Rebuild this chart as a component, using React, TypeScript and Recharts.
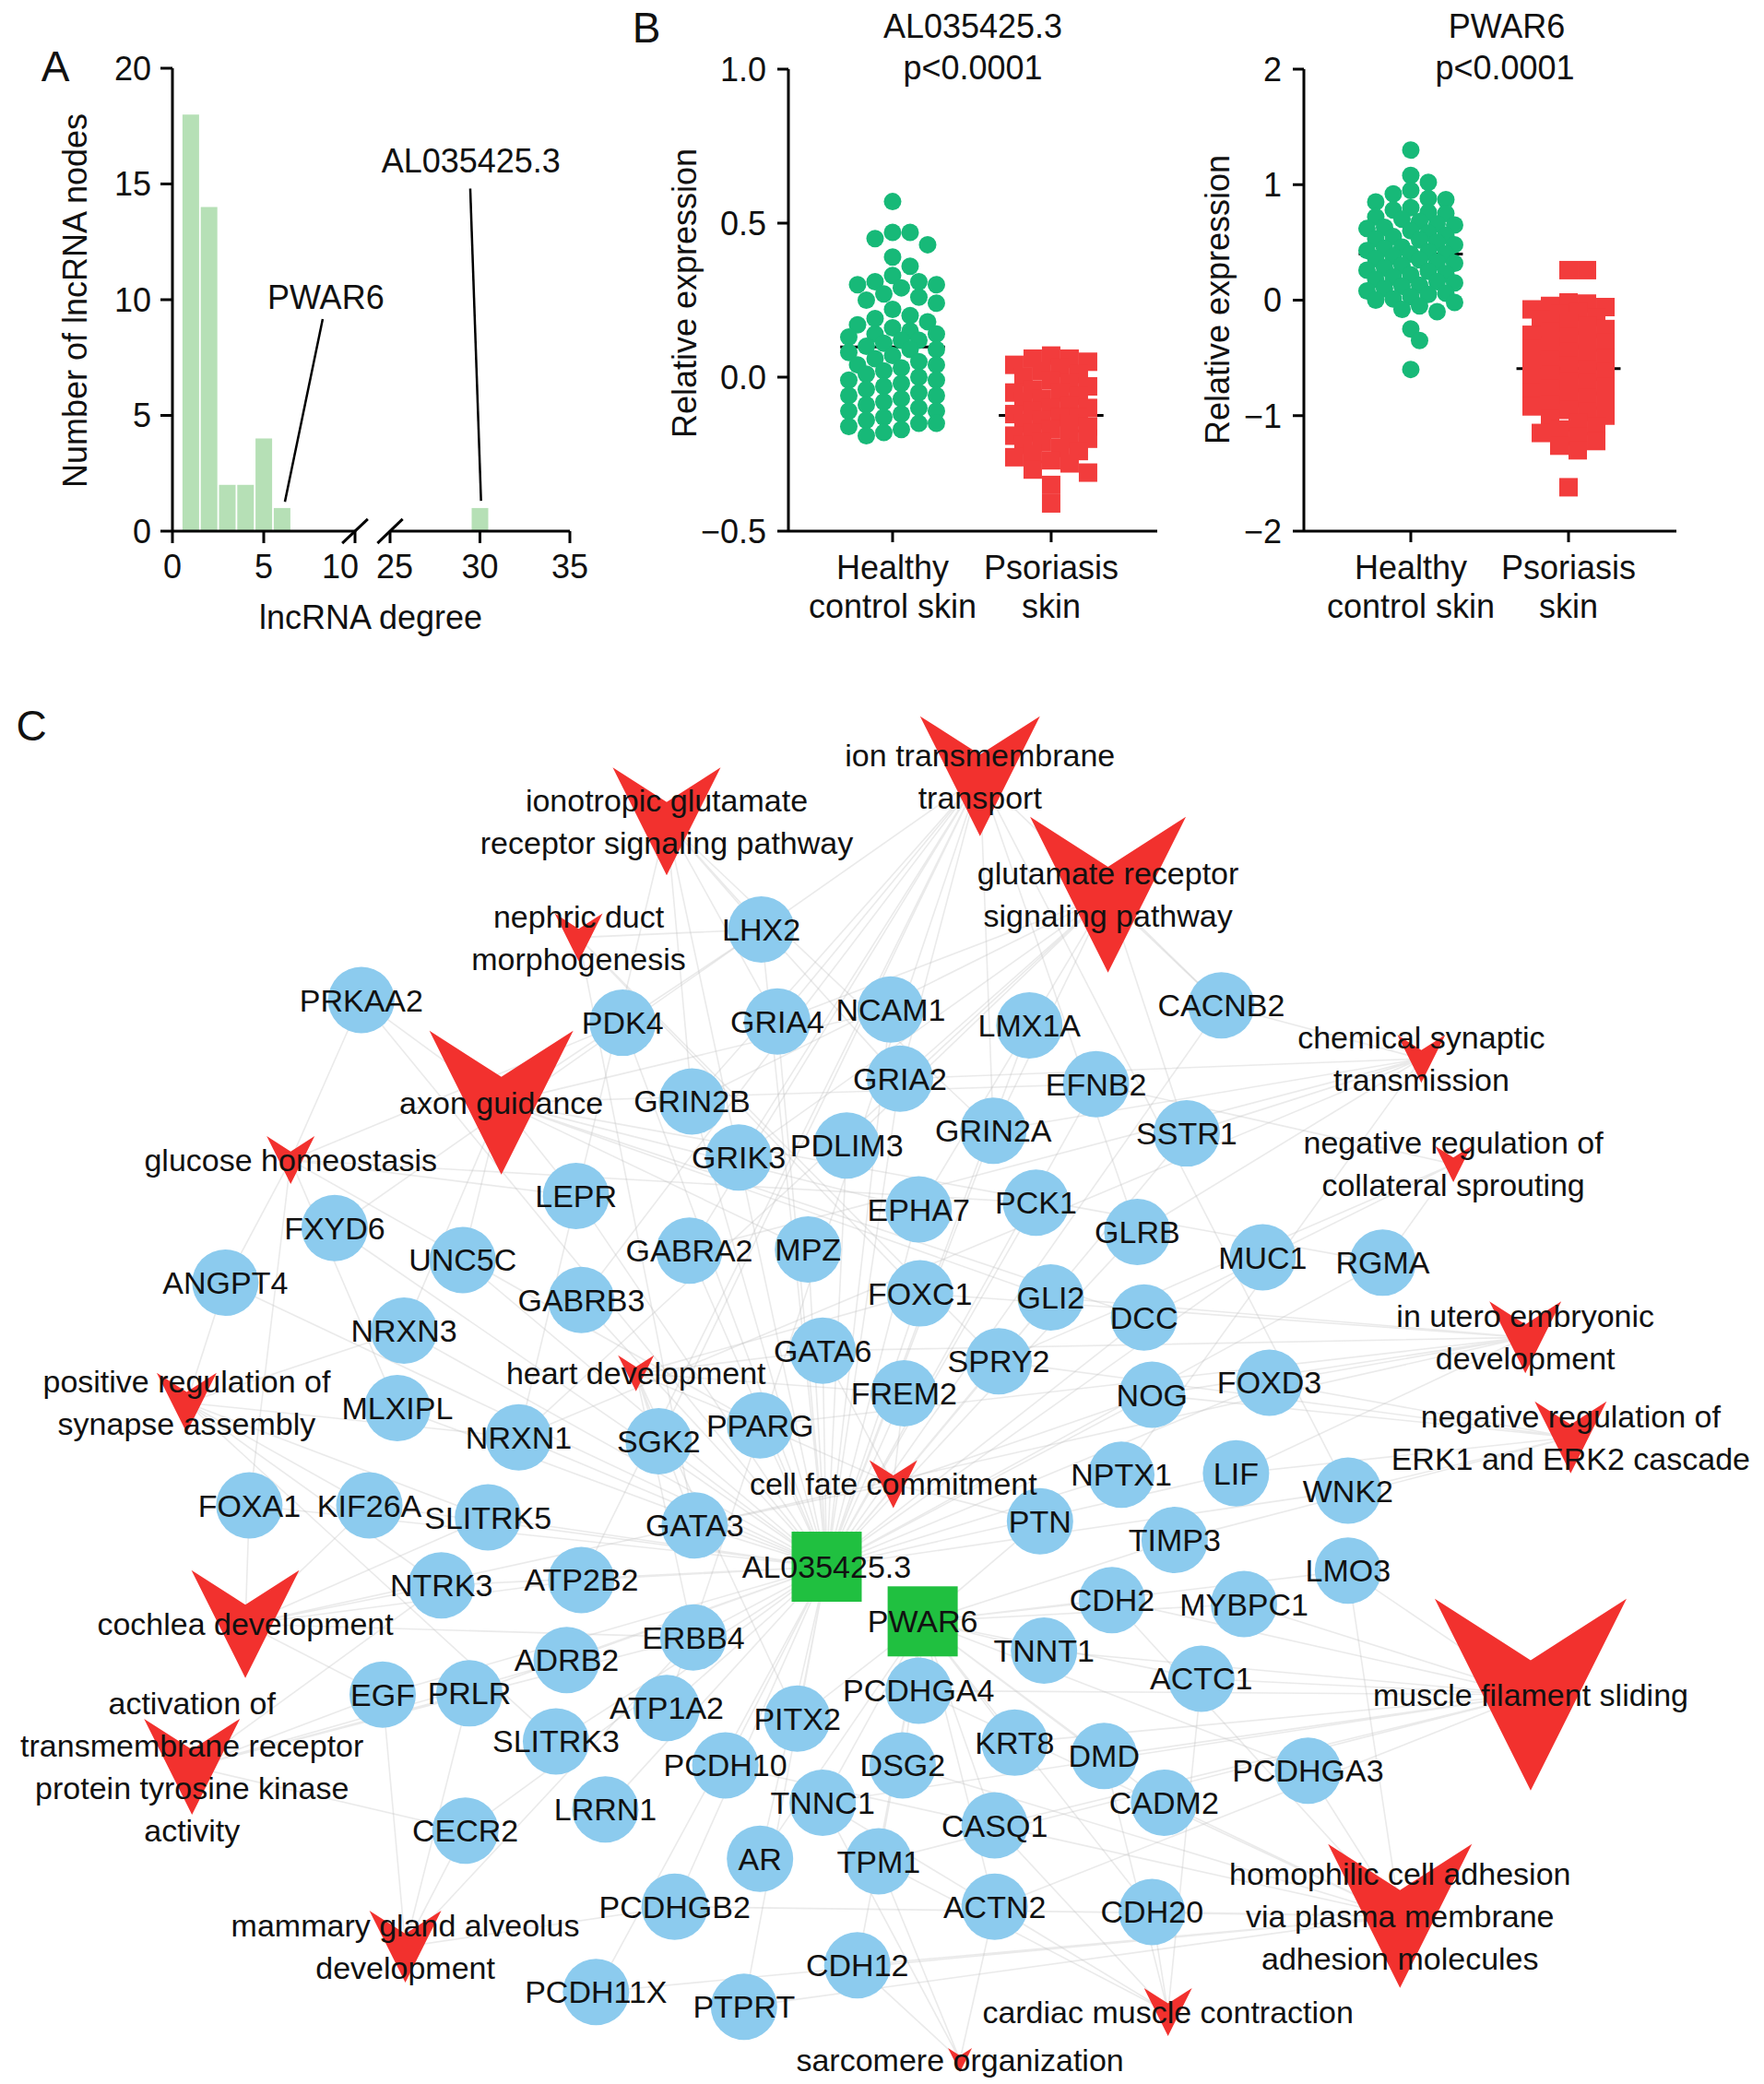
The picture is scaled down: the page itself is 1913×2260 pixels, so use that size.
import React from "react";
import {
  BarChart,
  Bar,
  XAxis,
  YAxis,
  ReferenceLine,
  ReferenceDot,
  ScatterChart,
  Scatter,
} from "recharts";

const FONT = '"Liberation Sans", Arial, Helvetica, sans-serif';
const INK = "#111111";
const BAR_GREEN = "#b6e0b6";
const DOT_GREEN = "#17b978";
const SQ_RED = "#f23c3c";
const GENE_BLUE = "#8ccbee";
const LNC_GREEN = "#20c040";
const GO_RED = "#f2312e";

// ---------- A: lncRNA degree distribution ----------
const degreeLow = [
  { degree: 1, nodes: 18 },
  { degree: 2, nodes: 14 },
  { degree: 3, nodes: 2 },
  { degree: 4, nodes: 2 },
  { degree: 5, nodes: 4 },
  { degree: 6, nodes: 1 },
];
const degreeHigh = [{ degree: 30, nodes: 1 }];
const lowDegreeTicks = [0, 5, 10];
const highDegreeTicks = [25, 30, 35];
const nodeCountTicks = [0, 5, 10, 15, 20];

// ---------- B: relative expression ----------
const groupLabels = [
  ["Healthy", "control skin"],
  ["Psoriasis", "skin"],
];
const alTicks = [-0.5, 0, 0.5, 1.0];
const pwarTicks = [-2, -1, 0, 1, 2];

const alHealthy = [
  0.57, 0.47, 0.47, 0.45, 0.43, 0.39, 0.36, 0.33, 0.31, 0.31, 0.3, 0.3, 0.29,
  0.27, 0.26, 0.25, 0.24, 0.22, 0.2, 0.19, 0.18, 0.17, 0.16, 0.15, 0.14, 0.14,
  0.13, 0.12, 0.12, 0.11, 0.1, 0.09, 0.09, 0.08, 0.07, 0.06, 0.05, 0.04, 0.04,
  0.03, 0.02, 0.01, 0.0, -0.01, -0.01, -0.02, -0.03, -0.04, -0.05, -0.06,
  -0.06, -0.07, -0.08, -0.09, -0.1, -0.11, -0.11, -0.12, -0.13, -0.14, -0.15,
  -0.15, -0.16, -0.17, -0.18, -0.19,
];
const alPsoriasis = [
  0.07, 0.06, 0.06, 0.05, 0.04, 0.03, 0.02, 0.01, 0.0, -0.01, -0.02, -0.03,
  -0.04, -0.05, -0.05, -0.06, -0.07, -0.08, -0.09, -0.1, -0.1, -0.11, -0.12,
  -0.13, -0.13, -0.14, -0.15, -0.15, -0.16, -0.17, -0.18, -0.19, -0.2, -0.2,
  -0.21, -0.22, -0.23, -0.24, -0.25, -0.26, -0.27, -0.28, -0.3, -0.31, -0.35,
  -0.41,
];
const pwarHealthy = [
  1.3, 1.08, 1.02, 0.95, 0.92, 0.88, 0.87, 0.85, 0.8, 0.78, 0.76, 0.75, 0.72,
  0.7, 0.68, 0.66, 0.65, 0.63, 0.62, 0.6, 0.58, 0.56, 0.55, 0.53, 0.52, 0.5,
  0.48, 0.46, 0.45, 0.43, 0.42, 0.4, 0.4, 0.38, 0.36, 0.35, 0.33, 0.32, 0.3,
  0.28, 0.26, 0.25, 0.23, 0.22, 0.2, 0.18, 0.16, 0.15, 0.13, 0.12, 0.1, 0.08,
  0.06, 0.05, 0.03, 0.01, 0.0, -0.02, -0.05, -0.08, -0.1, -0.25, -0.35, -0.6,
];
const pwarPsoriasis = [
  0.26, 0.26, -0.02, -0.03, -0.05, -0.06, -0.08, -0.1, -0.12, -0.15, -0.17,
  -0.2, -0.22, -0.25, -0.27, -0.3, -0.32, -0.35, -0.37, -0.4, -0.42, -0.45,
  -0.47, -0.5, -0.52, -0.55, -0.57, -0.6, -0.62, -0.65, -0.67, -0.7, -0.72,
  -0.75, -0.77, -0.8, -0.82, -0.85, -0.87, -0.9, -0.92, -0.95, -0.97, -1.0,
  -1.03, -1.06, -1.09, -1.12, -1.15, -1.18, -1.22, -1.26, -1.3, -1.62,
];

// ---------- C: network (layout coordinates) ----------
const genes = [
  { name: "LHX2", x: 571, y: 697 },
  { name: "PRKAA2", x: 271, y: 750 },
  { name: "PDK4", x: 467, y: 767 },
  { name: "GRIA4", x: 583, y: 766 },
  { name: "NCAM1", x: 668, y: 757 },
  { name: "LMX1A", x: 772, y: 769 },
  { name: "CACNB2", x: 916, y: 754 },
  { name: "GRIA2", x: 675, y: 809 },
  { name: "EFNB2", x: 822, y: 813 },
  { name: "GRIN2B", x: 519, y: 826 },
  { name: "GRIN2A", x: 745, y: 848 },
  { name: "SSTR1", x: 890, y: 850 },
  { name: "GRIK3", x: 554, y: 868 },
  { name: "PDLIM3", x: 635, y: 859 },
  { name: "LEPR", x: 432, y: 897 },
  { name: "EPHA7", x: 689, y: 907 },
  { name: "PCK1", x: 777, y: 902 },
  { name: "GLRB", x: 853, y: 924 },
  { name: "FXYD6", x: 251, y: 921 },
  { name: "UNC5C", x: 347, y: 945 },
  { name: "GABRA2", x: 517, y: 938 },
  { name: "MPZ", x: 606, y: 937 },
  { name: "MUC1", x: 947, y: 943 },
  { name: "RGMA", x: 1037, y: 947 },
  { name: "ANGPT4", x: 169, y: 962 },
  { name: "FOXC1", x: 690, y: 970 },
  { name: "GLI2", x: 788, y: 973 },
  { name: "DCC", x: 858, y: 988 },
  { name: "GABRB3", x: 436, y: 975 },
  { name: "NRXN3", x: 303, y: 998 },
  { name: "GATA6", x: 617, y: 1013 },
  { name: "SPRY2", x: 749, y: 1021 },
  { name: "FREM2", x: 678, y: 1045 },
  { name: "NOG", x: 864, y: 1046 },
  { name: "FOXD3", x: 952, y: 1037 },
  { name: "MLXIPL", x: 298, y: 1056 },
  { name: "NRXN1", x: 389, y: 1078 },
  { name: "SGK2", x: 494, y: 1081 },
  { name: "PPARG", x: 570, y: 1069 },
  { name: "NPTX1", x: 841, y: 1106 },
  { name: "LIF", x: 927, y: 1105 },
  { name: "WNK2", x: 1011, y: 1118 },
  { name: "FOXA1", x: 187, y: 1129 },
  { name: "KIF26A", x: 277, y: 1129 },
  { name: "SLITRK5", x: 366, y: 1138 },
  { name: "GATA3", x: 521, y: 1144 },
  { name: "PTN", x: 780, y: 1141 },
  { name: "TIMP3", x: 881, y: 1155 },
  { name: "LMO3", x: 1011, y: 1178 },
  { name: "NTRK3", x: 331, y: 1189 },
  { name: "ATP2B2", x: 436, y: 1185 },
  { name: "CDH2", x: 834, y: 1200 },
  { name: "MYBPC1", x: 933, y: 1203 },
  { name: "ERBB4", x: 520, y: 1228 },
  { name: "ADRB2", x: 425, y: 1245 },
  { name: "TNNT1", x: 783, y: 1238 },
  { name: "ACTC1", x: 901, y: 1259 },
  { name: "EGF", x: 287, y: 1271 },
  { name: "PRLR", x: 352, y: 1270 },
  { name: "PCDHGA4", x: 689, y: 1268 },
  { name: "ATP1A2", x: 500, y: 1281 },
  { name: "PITX2", x: 598, y: 1289 },
  { name: "SLITRK3", x: 417, y: 1306 },
  { name: "KRT8", x: 761, y: 1307 },
  { name: "DMD", x: 828, y: 1317 },
  { name: "PCDHGA3", x: 981, y: 1328 },
  { name: "DSG2", x: 677, y: 1324 },
  { name: "PCDH10", x: 544, y: 1324 },
  { name: "TNNC1", x: 617, y: 1352 },
  { name: "CADM2", x: 873, y: 1352 },
  { name: "LRRN1", x: 454, y: 1357 },
  { name: "CECR2", x: 349, y: 1373 },
  { name: "CASQ1", x: 746, y: 1369 },
  { name: "AR", x: 570, y: 1394 },
  { name: "TPM1", x: 659, y: 1396 },
  { name: "ACTN2", x: 746, y: 1430 },
  { name: "CDH20", x: 864, y: 1434 },
  { name: "PCDHGB2", x: 506, y: 1430 },
  { name: "CDH12", x: 643, y: 1474 },
  { name: "PCDH11X", x: 447, y: 1494 },
  { name: "PTPRT", x: 558, y: 1505 },
];

const lncRNAs = [
  { name: "AL035425.3", x: 620, y: 1175 },
  { name: "PWAR6", x: 692, y: 1216 },
];

// count = number of genes annotated to the term (drives the marker size)
const goTerms = [
  { name: "ion transmembrane transport", lines: ["ion transmembrane", "transport"], x: 735, y: 582, count: 10 },
  { name: "ionotropic glutamate receptor signaling pathway", lines: ["ionotropic glutamate", "receptor signaling pathway"], x: 500, y: 616, count: 9 },
  { name: "glutamate receptor signaling pathway", lines: ["glutamate receptor", "signaling pathway"], x: 831, y: 671, count: 13 },
  { name: "nephric duct morphogenesis", lines: ["nephric duct", "morphogenesis"], x: 434, y: 703, count: 4 },
  { name: "axon guidance", lines: ["axon guidance"], x: 376, y: 827, count: 12 },
  { name: "glucose homeostasis", lines: ["glucose homeostasis"], x: 218, y: 870, count: 4 },
  { name: "chemical synaptic transmission", lines: ["chemical synaptic", "transmission"], x: 1066, y: 794, count: 4 },
  { name: "negative regulation of collateral sprouting", lines: ["negative regulation of", "collateral sprouting"], x: 1090, y: 873, count: 3 },
  { name: "in utero embryonic development", lines: ["in utero embryonic", "development"], x: 1144, y: 1003, count: 6 },
  { name: "negative regulation of ERK1 and ERK2 cascade", lines: ["negative regulation of", "ERK1 and ERK2 cascade"], x: 1178, y: 1078, count: 6 },
  { name: "positive regulation of synapse assembly", lines: ["positive regulation of", "synapse assembly"], x: 140, y: 1052, count: 5 },
  { name: "heart development", lines: ["heart development"], x: 477, y: 1030, count: 3 },
  { name: "cell fate commitment", lines: ["cell fate commitment"], x: 670, y: 1113, count: 4 },
  { name: "cochlea development", lines: ["cochlea development"], x: 184, y: 1218, count: 9 },
  { name: "activation of transmembrane receptor protein tyrosine kinase activity", lines: ["activation of", "transmembrane receptor", "protein tyrosine kinase", "activity"], x: 144, y: 1325, count: 8 },
  { name: "mammary gland alveolus development", lines: ["mammary gland alveolus", "development"], x: 304, y: 1460, count: 6 },
  { name: "homophilic cell adhesion via plasma membrane adhesion molecules", lines: ["homophilic cell adhesion", "via plasma membrane", "adhesion molecules"], x: 1050, y: 1437, count: 12 },
  { name: "muscle filament sliding", lines: ["muscle filament sliding"], x: 1148, y: 1271, count: 16 },
  { name: "cardiac muscle contraction", lines: ["cardiac muscle contraction"], x: 876, y: 1509, count: 4 },
  { name: "sarcomere organization", lines: ["sarcomere organization"], x: 720, y: 1545, count: 2 },
];

const lncLinks: [string, string[]][] = [
  ["AL035425.3", ["LHX2", "PDK4", "GRIA4", "NCAM1", "LMX1A", "GRIA2", "EFNB2", "GRIN2B", "GRIN2A", "GRIK3", "PDLIM3", "LEPR", "EPHA7", "PCK1", "GLRB", "FXYD6", "UNC5C", "GABRA2", "MPZ", "ANGPT4", "FOXC1", "GLI2", "DCC", "GABRB3", "NRXN3", "GATA6", "SPRY2", "FREM2", "NOG", "MLXIPL", "NRXN1", "SGK2", "PPARG", "NPTX1", "FOXA1", "KIF26A", "SLITRK5", "GATA3", "NTRK3", "ATP2B2", "ERBB4", "ADRB2", "EGF", "PRLR", "ATP1A2", "SLITRK3", "LRRN1", "CECR2", "PCDH10", "PCDHGB2", "PCDH11X", "PTPRT", "AR", "PITX2", "PRKAA2", "CACNB2", "SSTR1", "MUC1", "RGMA", "FOXD3", "LIF", "WNK2"]],
  ["PWAR6", ["PTN", "TIMP3", "LMO3", "CDH2", "MYBPC1", "TNNT1", "ACTC1", "PCDHGA4", "KRT8", "DMD", "PCDHGA3", "DSG2", "TNNC1", "CADM2", "CASQ1", "TPM1", "ACTN2", "CDH20", "CDH12", "AR", "PITX2"]],
];

const goLinks: [string, string[]][] = [
  ["ion transmembrane transport", ["GRIA4", "GRIA2", "GRIN2A", "GRIN2B", "GRIK3", "GABRA2", "GABRB3", "GLRB", "CACNB2", "ATP1A2", "ATP2B2", "FXYD6", "SGK2", "WNK2"]],
  ["ionotropic glutamate receptor signaling pathway", ["GRIA4", "GRIA2", "GRIN2A", "GRIN2B", "GRIK3", "NRXN1", "LHX2"]],
  ["glutamate receptor signaling pathway", ["GRIA4", "GRIA2", "GRIN2A", "GRIN2B", "GRIK3", "NRXN1", "CACNB2", "SSTR1", "EPHA7", "PDLIM3"]],
  ["nephric duct morphogenesis", ["GATA3", "SPRY2", "FOXC1", "LHX2"]],
  ["axon guidance", ["UNC5C", "DCC", "RGMA", "EPHA7", "EFNB2", "NCAM1", "LHX2", "GLI2", "PRKAA2", "NRXN3", "LEPR", "MPZ"]],
  ["glucose homeostasis", ["PRKAA2", "PDK4", "PCK1", "LEPR", "PPARG", "FOXA1", "MLXIPL", "ANGPT4"]],
  ["chemical synaptic transmission", ["CACNB2", "GRIA2", "GRIN2A", "SSTR1", "NRXN1", "GABRA2", "GLRB", "NPTX1"]],
  ["negative regulation of collateral sprouting", ["RGMA", "SPRY2", "EFNB2", "DCC"]],
  ["in utero embryonic development", ["GATA6", "GATA3", "FOXC1", "NOG", "FOXD3", "LIF", "GLI2", "PPARG"]],
  ["negative regulation of ERK1 and ERK2 cascade", ["SPRY2", "NOG", "FOXD3", "LIF", "TIMP3", "WNK2"]],
  ["positive regulation of synapse assembly", ["NRXN1", "NRXN3", "SLITRK5", "SLITRK3", "NTRK3", "KIF26A", "ANGPT4"]],
  ["heart development", ["GATA6", "GATA3", "PITX2", "FOXC1", "FREM2", "SGK2", "ERBB4", "PPARG"]],
  ["cell fate commitment", ["GATA6", "PPARG", "GATA3", "PTN", "FREM2", "NOG"]],
  ["cochlea development", ["NTRK3", "GATA3", "ERBB4", "ATP2B2", "KIF26A", "FOXA1", "SLITRK5", "EGF"]],
  ["activation of transmembrane receptor protein tyrosine kinase activity", ["EGF", "PRLR", "ERBB4", "NTRK3", "ADRB2", "CECR2"]],
  ["mammary gland alveolus development", ["PRLR", "EGF", "ERBB4", "CECR2", "PCDHGB2"]],
  ["homophilic cell adhesion via plasma membrane adhesion molecules", ["PCDHGA3", "PCDHGA4", "PCDHGB2", "PCDH10", "PCDH11X", "CDH2", "CDH12", "CDH20", "CADM2", "DSG2", "PTPRT", "LMO3"]],
  ["muscle filament sliding", ["ACTC1", "ACTN2", "TNNT1", "TNNC1", "TPM1", "MYBPC1", "DMD", "KRT8", "CASQ1", "LMO3", "CDH2", "PCDHGA4"]],
  ["cardiac muscle contraction", ["ACTC1", "ACTN2", "TNNC1", "CASQ1", "CDH20", "DMD", "TPM1"]],
  ["sarcomere organization", ["ACTN2", "TPM1", "CDH12", "TNNC1"]],
];

// ---------- helpers ----------
// simple beeswarm: spreads equal-ish values sideways, in pixel space
function swarm(
  values: number[],
  center: number,
  pxPerX: number,
  pxPerY: number,
  diam: number,
  fit: number,
  maxHalf: number
) {
  const placed: { dx: number; py: number }[] = [];
  const step = diam / 2;
  const offsets: number[] = [0];
  for (let k = 1; k * step <= maxHalf; k++) offsets.push(k * step, -k * step);
  return [...values]
    .sort((a, b) => b - a)
    .map((v) => {
      const py = v * pxPerY;
      let best = 0;
      let bestGap = -1;
      for (const dx of offsets) {
        let gap = Infinity;
        for (const p of placed) gap = Math.min(gap, Math.hypot(p.dx - dx, p.py - py));
        if (gap >= diam * fit) {
          best = dx;
          break;
        }
        if (gap > bestGap) {
          bestGap = gap;
          best = dx;
        }
      }
      placed.push({ dx: best, py });
      return { x: center + best / pxPerX, y: v };
    });
}

const mean = (a: number[]) => a.reduce((s, v) => s + v, 0) / a.length;

const alHealthyPts = swarm(alHealthy, 1, 172, 334, 19, 0.95, 48);
const alPsoriasisPts = swarm(alPsoriasis, 2, 172, 334, 20, 0.8, 46);
const pwarHealthyPts = swarm(pwarHealthy, 1, 171, 125.25, 19, 0.7, 48);
const pwarPsoriasisPts = swarm(pwarPsoriasis, 2, 171, 125.25, 20, 0.72, 48);

const allNodes = [...genes, ...lncRNAs, ...goTerms];
const nodeMap: Record<string, { x: number; y: number }> = {};
allNodes.forEach((n) => (nodeMap[n.name] = n));

const edgeSets = [...lncLinks, ...goLinks].map(([hub, targets]) => {
  const h = nodeMap[hub];
  const pts: { x: number; y: number }[] = [];
  targets.forEach((t) => {
    pts.push({ x: h.x, y: h.y });
    pts.push({ x: nodeMap[t].x, y: nodeMap[t].y });
  });
  return { hub, pts };
});

const labelNodes = [
  ...goTerms,
  ...genes.map((g) => ({ ...g, lines: [g.name] })),
  ...lncRNAs.map((g) => ({ ...g, lines: [g.name] })),
];

// ---------- shapes ----------
const V_UNIT = 13;
const Empty = () => <g />;
const VShape = (p: any) => {
  const w = p.payload.count * V_UNIT;
  const h = w;
  const top = p.cy - h / 2;
  const pts = `${p.cx - w / 2},${top} ${p.cx},${top + h * 0.32} ${p.cx + w / 2},${top} ${p.cx},${top + h}`;
  return <polygon points={pts} fill={GO_RED} />;
};
const GeneShape = (p: any) => <circle cx={p.cx} cy={p.cy} r={36} fill={GENE_BLUE} />;
const LncShape = (p: any) => <rect x={p.cx - 38} y={p.cy - 38} width={76} height={76} fill={LNC_GREEN} />;
const LabelShape = (p: any) => {
  const lines: string[] = p.payload.lines;
  const n = lines.length;
  return (
    <text textAnchor="middle" fontSize={34} fontFamily={FONT} fill={INK}>
      {lines.map((l, i) => (
        <tspan key={i} x={p.cx} y={p.cy + (i - (n - 1) / 2) * 46 + 12}>
          {l}
        </tspan>
      ))}
    </text>
  );
};
const DotShape = (p: any) => <circle cx={p.cx} cy={p.cy} r={9.5} fill={DOT_GREEN} />;
const SquareShape = (p: any) => <rect x={p.cx - 10} y={p.cy - 10} width={20} height={20} fill={SQ_RED} />;

const axisStroke = { stroke: "#000", strokeWidth: 3 };
const tickFont = { fontSize: 36, fill: INK, fontFamily: FONT };

// tick labels next to the axis break sit a little away from the break marks
const breakTick = (shift: Record<number, number>) => (p: any) => (
  <text
    x={p.x + (shift[p.payload.value] || 0)}
    y={p.y}
    dy="0.71em"
    textAnchor="middle"
    fontSize={36}
    fontFamily={FONT}
    fill={INK}
  >
    {p.payload.value}
  </text>
);

const GroupTick = (p: any) => {
  const lines = groupLabels[p.payload.value - 1] || [];
  return (
    <text textAnchor="middle" fontSize={36} fontFamily={FONT} fill={INK}>
      {lines.map((l, i) => (
        <tspan key={i} x={p.x} y={p.y + 38 + i * 42}>
          {l}
        </tspan>
      ))}
    </text>
  );
};

const Txt = ({ x, y, size = 36, rotate = 0, children }: any) => (
  <div
    style={{
      position: "absolute",
      left: x,
      top: y,
      transform: `translate(-50%, -50%) rotate(${rotate}deg)`,
      fontSize: size,
      fontFamily: FONT,
      whiteSpace: "nowrap",
      lineHeight: 1,
      color: INK,
    }}
  >
    {children}
  </div>
);

const fmtOne = (v: number) => (v < 0 ? "\u2212" : "") + Math.abs(v).toFixed(1);
const fmtInt = (v: number) => (v < 0 ? "\u2212" : "") + Math.abs(v).toString();

function DotPlot({ healthy, psoriasis, domainY, ticks, fmt, domainX, margin, width, rawH, rawP }: any) {
  const mH = mean(rawH);
  const mP = mean(rawP);
  return (
    <ScatterChart width={width} height={700} margin={margin}>
      <XAxis
        type="number"
        dataKey="x"
        domain={domainX}
        ticks={[1, 2]}
        interval={0}
        allowDataOverflow
        axisLine={axisStroke}
        tickLine={axisStroke}
        tickSize={12}
        height={100}
        tick={<GroupTick />}
      />
      <YAxis
        type="number"
        dataKey="y"
        domain={domainY}
        ticks={ticks}
        interval={0}
        allowDataOverflow
        tickFormatter={fmt}
        axisLine={axisStroke}
        tickLine={axisStroke}
        tickSize={12}
        tickMargin={12}
        width={120}
        tick={tickFont}
      />
      <ReferenceLine segment={[{ x: 0.67, y: mH }, { x: 1.33, y: mH }]} stroke="#000" strokeWidth={3} />
      <ReferenceLine segment={[{ x: 1.67, y: mP }, { x: 2.33, y: mP }]} stroke="#000" strokeWidth={3} />
      <Scatter data={healthy} shape={DotShape} isAnimationActive={false} />
      <Scatter data={psoriasis} shape={SquareShape} isAnimationActive={false} />
    </ScatterChart>
  );
}

export default function App() {
  return (
    <div style={{ position: "relative", width: 1913, height: 2260, background: "#fff", overflow: "hidden" }}>
      <style>{"body{margin:0}"}</style>

      {/* A */}
      <Txt x={60} y={72} size={46}>A</Txt>
      <Txt x={82} y={326} rotate={-90}>Number of lncRNA nodes</Txt>
      <Txt x={402} y={670}>lncRNA degree</Txt>
      <div style={{ position: "absolute", left: 0, top: 0 }}>
        <BarChart width={420} height={700} data={degreeLow} margin={{ top: 74, right: 35, bottom: 64, left: 67 }}>
          <XAxis
            type="number"
            dataKey="degree"
            domain={[0, 10]}
            ticks={lowDegreeTicks}
            interval={0}
            allowDataOverflow
            axisLine={axisStroke}
            tickLine={axisStroke}
            tickSize={13}
            tickMargin={12}
            height={60}
            tick={breakTick({ 10: -16 })}
          />
          <YAxis
            type="number"
            domain={[0, 20]}
            ticks={nodeCountTicks}
            interval={0}
            axisLine={axisStroke}
            tickLine={axisStroke}
            tickSize={13}
            tickMargin={10}
            width={120}
            tick={tickFont}
          />
          <Bar dataKey="nodes" fill={BAR_GREEN} barSize={18} isAnimationActive={false} />
          <ReferenceLine segment={[{ x: 6.16, y: 1.27 }, { x: 8.23, y: 9.16 }]} stroke="#000" strokeWidth={2.5} />
          <ReferenceDot
            x={8.4}
            y={10.1}
            shape={(p: any) => (
              <text x={p.cx} y={p.cy + 13} textAnchor="middle" fontSize={36} fontFamily={FONT} fill={INK}>
                PWAR6
              </text>
            )}
          />
          <ReferenceLine
            segment={[{ x: 9.3, y: -0.52 }, { x: 10.7, y: 0.52 }]}
            ifOverflow="visible"
            stroke="#000"
            strokeWidth={3}
          />
        </BarChart>
      </div>
      <div style={{ position: "absolute", left: 380, top: 0 }}>
        <BarChart width={300} height={700} data={degreeHigh} margin={{ top: 74, right: 62, bottom: 64, left: 43 }}>
          <XAxis
            type="number"
            dataKey="degree"
            domain={[25, 35]}
            ticks={highDegreeTicks}
            interval={0}
            allowDataOverflow
            axisLine={axisStroke}
            tickLine={axisStroke}
            tickSize={13}
            tickMargin={12}
            height={60}
            tick={breakTick({ 25: 5 })}
          />
          <YAxis type="number" domain={[0, 20]} hide />
          <Bar dataKey="nodes" fill={BAR_GREEN} barSize={18} isAnimationActive={false} />
          <ReferenceLine segment={[{ x: 29.46, y: 14.8 }, { x: 30.06, y: 1.31 }]} stroke="#000" strokeWidth={2.5} />
          <ReferenceDot
            x={29.5}
            y={16}
            shape={(p: any) => (
              <text x={p.cx} y={p.cy + 13} textAnchor="middle" fontSize={36} fontFamily={FONT} fill={INK}>
                AL035425.3
              </text>
            )}
          />
          <ReferenceLine
            segment={[{ x: 24.3, y: -0.52 }, { x: 25.7, y: 0.52 }]}
            ifOverflow="visible"
            stroke="#000"
            strokeWidth={3}
          />
        </BarChart>
      </div>

      {/* B */}
      <Txt x={701} y={30} size={46}>B</Txt>
      <Txt x={1055} y={29}>AL035425.3</Txt>
      <Txt x={1055} y={74}>p&lt;0.0001</Txt>
      <Txt x={743} y={318} rotate={-90}>Relative expression</Txt>
      <div style={{ position: "absolute", left: 700, top: 0 }}>
        <DotPlot
          healthy={alHealthyPts}
          psoriasis={alPsoriasisPts}
          rawH={alHealthy}
          rawP={alPsoriasis}
          domainY={[-0.5, 1.0]}
          ticks={alTicks}
          fmt={fmtOne}
          domainX={[0.343, 2.669]}
          width={580}
          margin={{ top: 75, right: 25, bottom: 24, left: 35 }}
        />
      </div>

      <Txt x={1634} y={29}>PWAR6</Txt>
      <Txt x={1632} y={74}>p&lt;0.0001</Txt>
      <Txt x={1321} y={325} rotate={-90}>Relative expression</Txt>
      <div style={{ position: "absolute", left: 1280, top: 0 }}>
        <DotPlot
          healthy={pwarHealthyPts}
          psoriasis={pwarPsoriasisPts}
          rawH={pwarHealthy}
          rawP={pwarPsoriasis}
          domainY={[-2, 2]}
          ticks={pwarTicks}
          fmt={fmtInt}
          domainX={[0.322, 2.684]}
          width={600}
          margin={{ top: 75, right: 62, bottom: 24, left: 14 }}
        />
      </div>

      {/* C */}
      <Txt x={34} y={787} size={46}>C</Txt>
      <div style={{ position: "absolute", left: 0, top: 752 }}>
        <ScatterChart width={1913} height={1508} margin={{ top: 0, right: 0, bottom: 0, left: 0 }}>
          <XAxis type="number" dataKey="x" domain={[0, 1323]} hide allowDataOverflow />
          <YAxis type="number" dataKey="y" domain={[520, 1563]} reversed hide allowDataOverflow />
          {edgeSets.map((e) => (
            <Scatter
              key={e.hub}
              data={e.pts}
              shape={Empty}
              line={{ stroke: "#c4c4c4", strokeWidth: 1.6, strokeOpacity: 0.35 }}
              isAnimationActive={false}
            />
          ))}
          <Scatter data={goTerms} shape={VShape} isAnimationActive={false} />
          <Scatter data={genes} shape={GeneShape} isAnimationActive={false} />
          <Scatter data={lncRNAs} shape={LncShape} isAnimationActive={false} />
          <Scatter data={labelNodes} shape={LabelShape} isAnimationActive={false} />
        </ScatterChart>
      </div>
    </div>
  );
}
